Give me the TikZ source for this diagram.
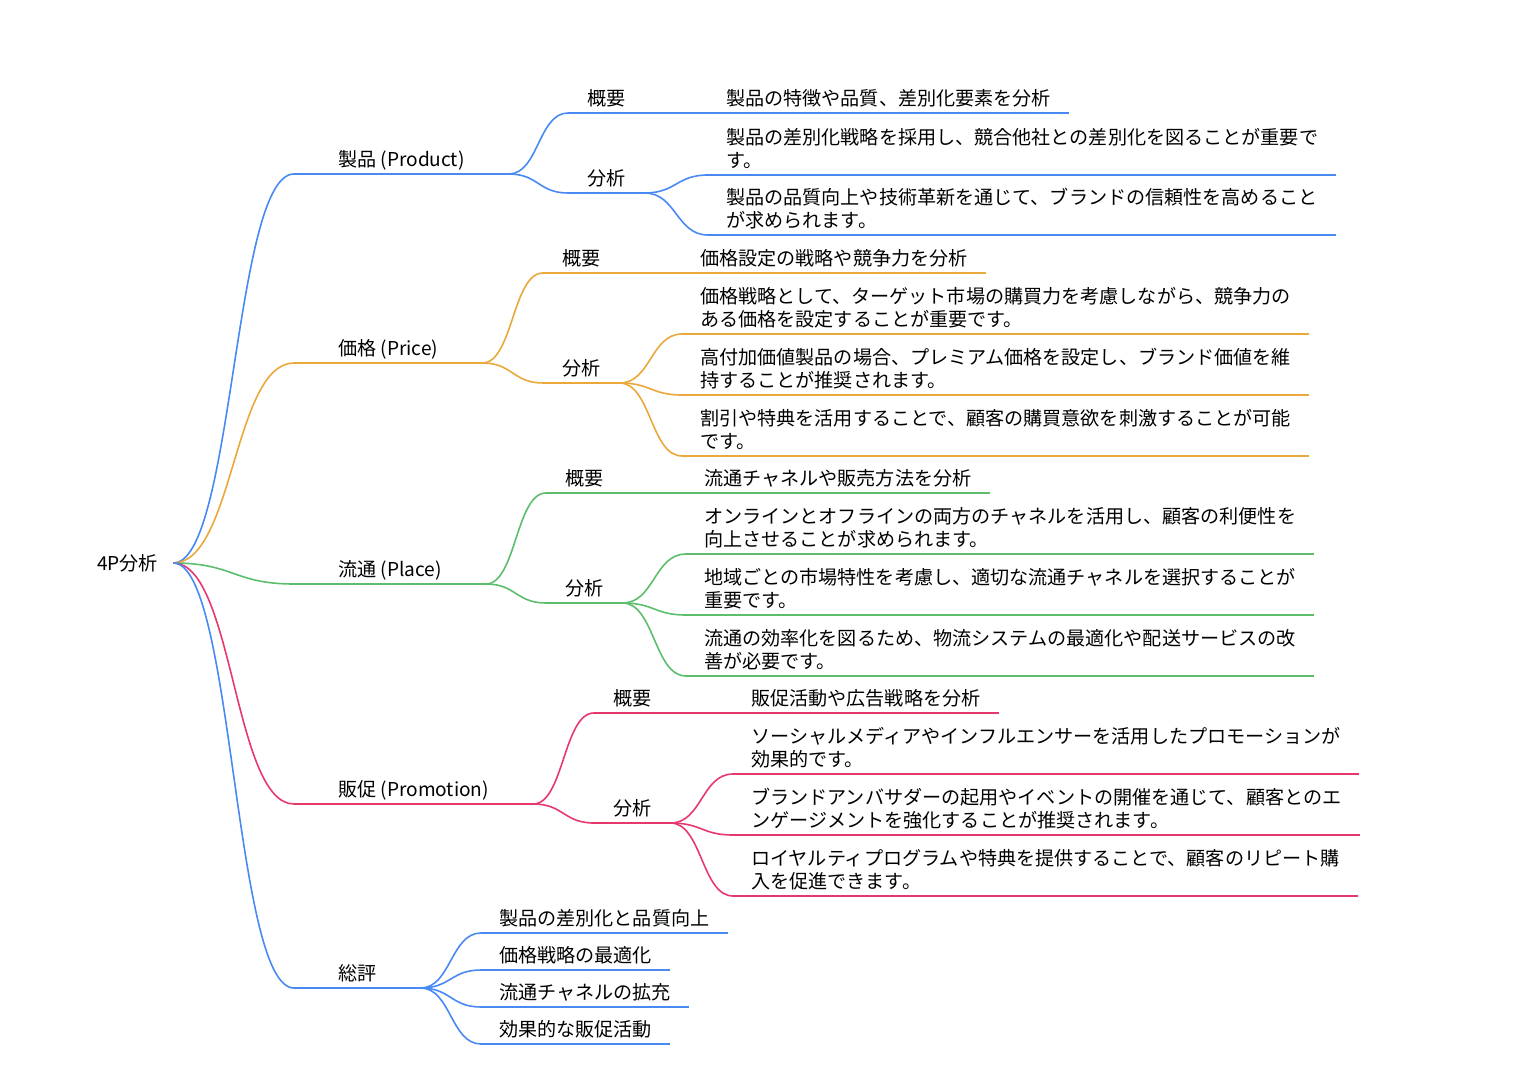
\documentclass[tikz,border=0pt]{standalone}
\usepackage{fontspec}
\setmainfont{Noto Sans CJK JP}
\usetikzlibrary{calc}
\definecolor{mblue}{RGB}{72, 137, 244}
\definecolor{myellow}{RGB}{234, 168, 58}
\definecolor{mgreen}{RGB}{92, 190, 108}
\definecolor{mred}{RGB}{230, 56, 108}

\begin{document}
\begin{tikzpicture}[x=1pt, y=-1pt,
    every node/.style={font=\fontsize{19.1}{23}\selectfont, anchor=south west, inner ysep=7pt, text depth=0pt},
    root/.style={anchor=west, inner xsep=15pt, inner ysep=0pt, text height=14.4pt},
    topic/.style={inner xsep=44pt},
    sub/.style={inner xsep=19pt},
    leaf/.style={inner xsep=18pt, align=left},
    under/.style={line width=1.6pt},
    link/.style={line width=1.6pt, to path={let \p1=(\tikztostart), \p2=(\tikztotarget), \p3=($(\tikztostart)!0.5!(\tikztotarget)$) in .. controls (\x3,\y1) and (\x3,\y2) .. (\tikztotarget)}}]
    \useasboundingbox (0, 0) rectangle (1524, 1086);

    \node [root] (r) at (82, 563) {4P分析};

    \node [topic] (p) at (294, 174) {製品 (Product)};
    \node [topic] (c) at (294, 363) {価格 (Price)};
    \node [topic] (d) at (294, 584) {流通 (Place)};
    \node [topic] (s) at (294, 804) {販促 (Promotion)};
    \node [topic] (t) at (294, 988) {総評};

    \node [sub] (p1) at (568, 113) {概要};
    \node [sub] (p2) at (568, 193) {分析};
    \node [sub] (c1) at (543, 273) {概要};
    \node [sub] (c2) at (543, 383) {分析};
    \node [sub] (d1) at (546, 493) {概要};
    \node [sub] (d2) at (546, 603) {分析};
    \node [sub] (s1) at (594, 713) {概要};
    \node [sub] (s2) at (594, 823) {分析};

    \node [leaf] (p11) at (708, 113) {製品の特徴や品質、差別化要素を分析};
    \node [leaf] (p21) at (708, 175) {製品の差別化戦略を採用し、競合他社との差別化を図ることが重要で\\す。};
    \node [leaf] (p22) at (708, 235) {製品の品質向上や技術革新を通じて、ブランドの信頼性を高めること\\が求められます。};

    \node [leaf] (c11) at (682, 273) {価格設定の戦略や競争力を分析};
    \node [leaf] (c21) at (682, 334) {価格戦略として、ターゲット市場の購買力を考慮しながら、競争力の\\ある価格を設定することが重要です。};
    \node [leaf] (c22) at (682, 395) {高付加価値製品の場合、プレミアム価格を設定し、ブランド価値を維\\持することが推奨されます。};
    \node [leaf] (c23) at (682, 456) {割引や特典を活用することで、顧客の購買意欲を刺激することが可能\\です。};

    \node [leaf] (d11) at (686, 493) {流通チャネルや販売方法を分析};
    \node [leaf] (d21) at (686, 554) {オンラインとオフラインの両方のチャネルを活用し、顧客の利便性を\\向上させることが求められます。};
    \node [leaf] (d22) at (686, 615) {地域ごとの市場特性を考慮し、適切な流通チャネルを選択することが\\重要です。};
    \node [leaf] (d23) at (686, 676) {流通の効率化を図るため、物流システムの最適化や配送サービスの改\\善が必要です。};

    \node [leaf] (s11) at (733, 713) {販促活動や広告戦略を分析};
    \node [leaf] (s21) at (733, 774) {ソーシャルメディアやインフルエンサーを活用したプロモーションが\\効果的です。};
    \node [leaf] (s22) at (733, 835) {ブランドアンバサダーの起用やイベントの開催を通じて、顧客とのエ\\ンゲージメントを強化することが推奨されます。};
    \node [leaf] (s23) at (733, 896) {ロイヤルティプログラムや特典を提供することで、顧客のリピート購\\入を促進できます。};

    \node [leaf] (t1) at (481, 933) {製品の差別化と品質向上};
    \node [leaf] (t2) at (481, 970) {価格戦略の最適化};
    \node [leaf] (t3) at (481, 1007) {流通チャネルの拡充};
    \node [leaf] (t4) at (481, 1044) {効果的な販促活動};

    \foreach \n/\c in {p/mblue, p1/mblue, p2/mblue, p11/mblue, p21/mblue, p22/mblue,
        c/myellow, c1/myellow, c2/myellow, c11/myellow, c21/myellow, c22/myellow, c23/myellow,
        d/mgreen, d1/mgreen, d2/mgreen, d11/mgreen, d21/mgreen, d22/mgreen, d23/mgreen,
        s/mred, s1/mred, s2/mred, s11/mred, s21/mred, s22/mred, s23/mred,
        t/mblue, t1/mblue, t2/mblue, t3/mblue, t4/mblue}
        \draw [under, \c] (\n.south west) -- (\n.south east);

    \foreach \b/\c in {p/mblue, c/myellow, d/mgreen, s/mred, t/mblue}
        \draw [link, \c] (r.east) to (\b.south west);

    \foreach \a/\b/\c in {p/p1/mblue, p/p2/mblue, p1/p11/mblue, p2/p21/mblue, p2/p22/mblue,
        c/c1/myellow, c/c2/myellow, c1/c11/myellow, c2/c21/myellow, c2/c22/myellow, c2/c23/myellow,
        d/d1/mgreen, d/d2/mgreen, d1/d11/mgreen, d2/d21/mgreen, d2/d22/mgreen, d2/d23/mgreen,
        s/s1/mred, s/s2/mred, s1/s11/mred, s2/s21/mred, s2/s22/mred, s2/s23/mred,
        t/t1/mblue, t/t2/mblue, t/t3/mblue, t/t4/mblue}
        \draw [link, \c] (\a.south east) to (\b.south west);
  \end{tikzpicture}
\end{document}
